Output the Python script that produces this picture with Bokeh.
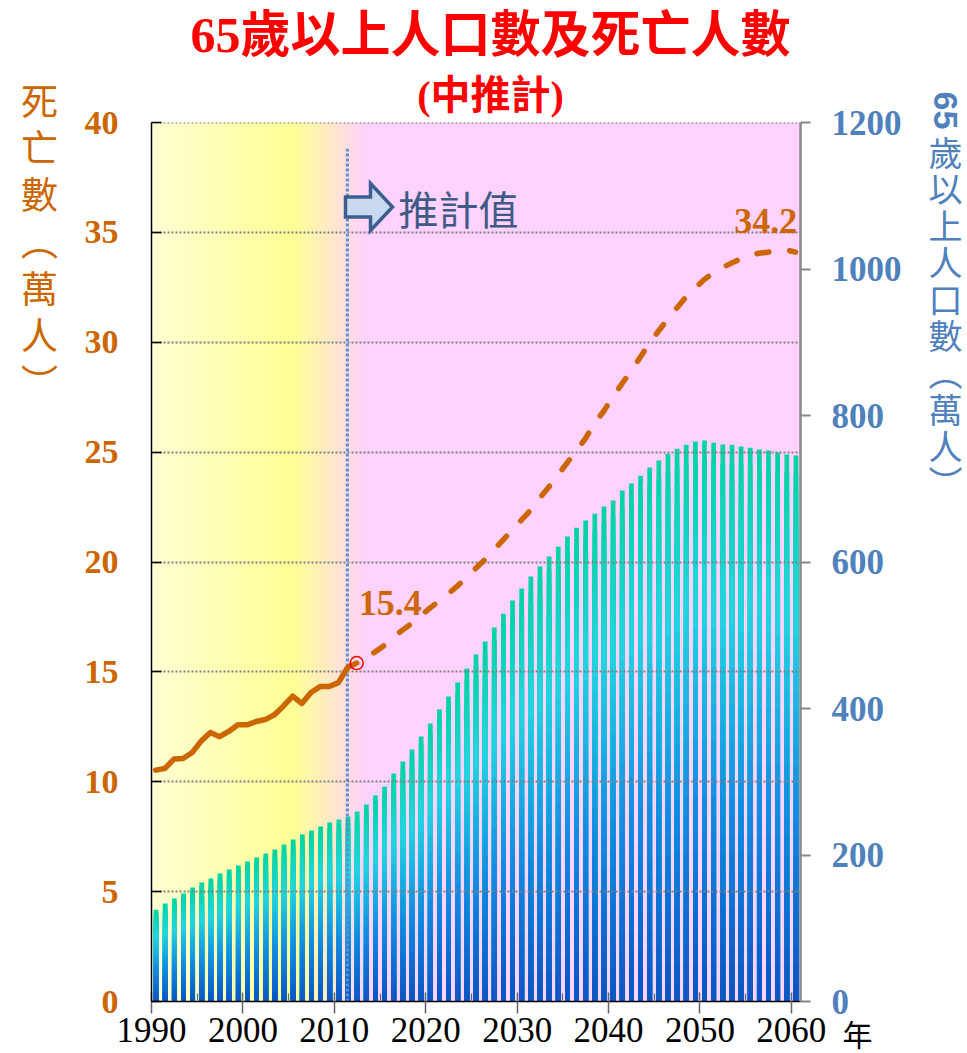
import math
import numpy as np
from bokeh.plotting import figure
from bokeh.models import Range1d, LinearAxis, FixedTicker, Label
from bokeh.embed import file_html
from bokeh.resources import INLINE

# ---------------- data ----------------
years = list(range(1990, 2061))
# 65+ population (10k persons)
pop65 = [125.2, 133.8, 140.6, 147.4, 155.6, 162.4, 167.9, 174.7, 180.2, 185.7,
         191.1, 196.6, 202.0, 207.5, 214.3, 221.2, 228.0, 233.4, 238.9, 244.4,
         248.5, 252.6, 259.4, 268.9, 281.2, 293.5, 311.3, 327.6, 344.0, 361.8,
         379.5, 398.6, 416.4, 435.5, 454.6, 473.7, 491.5, 510.6, 529.3, 547.4,
         563.8, 580.2, 593.9, 607.5, 620.7, 634.8, 646.7, 656.7, 665.8, 675.8,
         684.0, 697.6, 707.2, 717.7, 729.0, 738.6, 747.7, 754.5, 759.9, 764.5,
         765.9, 762.7, 760.4, 759.9, 757.7, 755.9, 753.6, 752.2, 749.5, 746.8, 745.4]
# deaths (10k persons), observed
years_obs = list(range(1990, 2013))
deaths_obs = [10.53, 10.6, 11.03, 11.06, 11.33, 11.86, 12.24, 12.05, 12.29, 12.59,
              12.59, 12.74, 12.83, 13.05, 13.45, 13.9, 13.56, 14.06, 14.33, 14.33,
              14.51, 15.2, 15.4]
# deaths (10k persons), projection (medium variant)
years_proj = list(range(2012, 2061))
deaths_proj = [15.4, 15.7, 15.9, 16.2, 16.55, 16.9, 17.2, 17.55, 17.9, 18.22,
               18.55, 18.9, 19.3, 19.7, 20.1, 20.55, 21.0, 21.45, 21.9, 22.35,
               22.9, 23.4, 23.95, 24.5, 25.05, 25.6, 26.3, 26.85, 27.5, 28.1,
               28.7, 29.3, 29.95, 30.5, 31.05, 31.55, 32.05, 32.45, 32.85, 33.15,
               33.4, 33.6, 33.8, 33.95, 34.05, 34.1, 34.15, 34.2, 34.1]

left_ticks = [0, 5, 10, 15, 20, 25, 30, 35, 40]
right_ticks = [0, 200, 400, 600, 800, 1000, 1200]
x_ticks = [1990, 2000, 2010, 2020, 2030, 2040, 2050, 2060]
x_minor = [1995, 2005, 2015, 2025, 2035, 2045, 2055]

title_text = "65歲以上人口數及死亡人數"
subtitle_text = "(中推計)"
left_label = "死\n亡\n數\n︵\n萬\n人\n︶"
right_label_num = "65"
right_label = "歲\n以\n上\n人\n口\n數\n︵\n萬\n人\n︶"
proj_text = "推計值"
year_unit = "年"

# ---------------- styling constants ----------------
SERIF = "Liberation Serif"
CJK = "Noto Sans CJK TC"
MIX = "Liberation Serif, Noto Sans CJK TC"
ORANGE = "#cc6600"
BLUE_TXT = "#4f81bd"

FL, FT = 151, 122            # frame left / top on the canvas
FW, FH = 649, 879
X0, X1 = 1990, 2061
Y1 = 40
PX_X = FW / (X1 - X0)
PX_Y = FH / Y1
BAR_OFF = 0.5
LINE_OFF = 0.45
PROJ_MARK_X = 2011.43
PROJ_MARK_TOP = 38.8


def at(px, py):
    """canvas pixel -> data coordinates (for placing annotations)"""
    return X0 + (px - FL) / PX_X, (FT + FH - py) / PX_Y


p = figure(frame_width=FW, frame_height=FH,
           x_range=Range1d(X0, X1), y_range=Range1d(0, Y1),
           output_backend="svg", toolbar_location=None,
           min_border_left=FL, min_border_right=967 - FL - FW,
           min_border_top=FT, min_border_bottom=1053 - FT - FH)
p.extra_y_ranges = {"pop": Range1d(0, 1200)}
p.outline_line_color = None
p.background_fill_color = "white"
p.border_fill_color = "white"
p.xgrid.visible = False
p.ygrid.visible = False

# ---------------- background gradient ----------------
N = 710
bx = np.linspace(X0, X1, N)
bg_stops_x = [1990, 2005.5, 2009.5, 2013.5, 2061]
bg_stops_c = [(255, 255, 212), (255, 255, 150), (255, 234, 200), (255, 210, 255), (255, 210, 255)]
img = np.zeros((1, N), dtype=np.uint32)
view = img.view(dtype=np.uint8).reshape((1, N, 4))
for ch in range(3):
    view[0, :, ch] = np.interp(bx, bg_stops_x, [c[ch] for c in bg_stops_c]).astype(np.uint8)
view[0, :, 3] = 255
p.image_rgba(image=[img], x=X0, y=0, dw=X1 - X0, dh=Y1)

# ---------------- gradient bars ----------------
grad_stops = [(0.0, (0, 212, 160)), (0.3, (34, 214, 226)), (0.65, (18, 140, 226)), (1.0, (8, 84, 196))]


def grad(f):
    fs = [s[0] for s in grad_stops]
    return "#%02x%02x%02x" % tuple(int(round(np.interp(f, fs, [s[1][c] for s in grad_stops]))) for c in range(3))


K = 30
bx_list, btop, bcol = [], [], []
for k in range(K):
    col = grad((k + 0.5) / K)
    for yr, v in zip(years, pop65):
        bx_list.append(yr + BAR_OFF)
        btop.append(v * (1 - k / K))
        bcol.append(col)
p.vbar(x=bx_list, top=btop, bottom=0, width=0.52, fill_color=bcol,
       line_color=None, y_range_name="pop")

# ---------------- grid lines ----------------
p.hspan(y=left_ticks[1:], line_color="#808080", line_width=1.8, line_dash="2 2")

# projection start marker
p.segment(x0=[PROJ_MARK_X], y0=[0], x1=[PROJ_MARK_X], y1=[PROJ_MARK_TOP],
          line_color="#5b8fd6", line_width=3, line_dash="3 2")

# ---------------- death lines ----------------
p.line(x=[y + LINE_OFF for y in years_obs], y=deaths_obs, line_color=ORANGE,
       line_width=5.5, line_join="round", line_cap="round")
p.line(x=[y + LINE_OFF for y in years_proj], y=deaths_proj, line_color=ORANGE,
       line_width=5.5, line_dash="12 21", line_dash_offset=13, line_cap="round")
p.scatter(x=[years_proj[0] + LINE_OFF], y=[deaths_proj[0]], marker="circle", size=13,
          fill_color=None, line_color="red", line_width=1.5)

# value labels
imax = int(np.argmax(deaths_proj))
p.add_layout(Label(x=years_proj[0] + LINE_OFF, y=deaths_proj[0], x_offset=2, y_offset=60,
                   text=f"{deaths_proj[0]:.1f}", text_align="left", text_baseline="middle",
                   text_font=SERIF, text_font_style="bold", text_font_size="36px",
                   text_color=ORANGE))
p.add_layout(Label(x=years_proj[imax] + LINE_OFF, y=deaths_proj[imax], x_offset=11, y_offset=29,
                   text=f"{deaths_proj[imax]:.1f}", text_align="right", text_baseline="middle",
                   text_font=SERIF, text_font_style="bold", text_font_size="36px",
                   text_color=ORANGE))

# ---------------- arrow + 推計值 ----------------
ARROW_ANCHOR = at(345, 206.5)
arrow_px = [(0, -10), (25, -10), (25, -23.5), (47, 0), (25, 23.5), (25, 10), (0, 10)]
p.patch(x=[ARROW_ANCHOR[0] + dx / PX_X for dx, dy in arrow_px],
        y=[ARROW_ANCHOR[1] + dy / PX_Y for dx, dy in arrow_px],
        fill_color="#c9d9f0", line_color="#3d5f8f", line_width=3.5, line_join="miter")
tx, ty = at(398, 207)
p.add_layout(Label(x=tx, y=ty, text=proj_text,
                   text_align="left", text_baseline="middle", text_font=CJK,
                   text_font_size="40px", text_color="#3e5a86"))

# ---------------- axes ----------------
ly = p.yaxis[0]
ly.ticker = FixedTicker(ticks=left_ticks)
ly.axis_line_color = "black"
ly.axis_line_width = 1.5
ly.major_tick_in = 10
ly.major_tick_out = 0
ly.major_tick_line_color = "black"
ly.major_tick_line_width = 1.5
ly.minor_tick_line_color = None
ly.major_label_standoff = 33
ly.major_label_text_font = SERIF
ly.major_label_text_font_style = "bold"
ly.major_label_text_font_size = "34px"
ly.major_label_text_color = ORANGE

ry = LinearAxis(y_range_name="pop", ticker=FixedTicker(ticks=right_ticks))
ry.axis_line_color = "#888888"
ry.axis_line_width = 2.5
ry.major_tick_in = 0
ry.major_tick_out = 10
ry.major_tick_line_color = "#888888"
ry.major_tick_line_width = 2
ry.minor_tick_line_color = None
ry.major_label_standoff = 21
ry.major_label_text_font = SERIF
ry.major_label_text_font_style = "bold"
ry.major_label_text_font_size = "35px"
ry.major_label_text_color = BLUE_TXT
p.add_layout(ry, "right")

bxa = p.xaxis[0]
bxa.ticker = FixedTicker(ticks=x_ticks, minor_ticks=x_minor)
bxa.axis_line_color = "black"
bxa.axis_line_width = 1.5
bxa.major_tick_in = 9
bxa.major_tick_out = 12
bxa.major_tick_line_color = "#666666"
bxa.major_tick_line_width = 1.5
bxa.minor_tick_in = 8
bxa.minor_tick_out = 0
bxa.minor_tick_line_color = "#666666"
bxa.minor_tick_line_width = 1.2
bxa.major_label_standoff = 4
bxa.major_label_text_font = SERIF
bxa.major_label_text_font_size = "35px"
bxa.major_label_text_color = "black"

# ---------------- titles & axis labels (side panels: not clipped) ----------------
x, y = at(490, 34)
p.add_layout(Label(x=x, y=y, text=title_text,
                   text_align="center", text_baseline="middle", text_font=MIX,
                   text_font_style="bold", text_font_size="50px", text_color="#ff0000"), "above")
x, y = at(490, 95)
p.add_layout(Label(x=x, y=y, text=subtitle_text,
                   text_align="center", text_baseline="middle", text_font=MIX,
                   text_font_style="bold", text_font_size="40px", text_color="#ff0000"), "above")
x, y = at(39, 72)
p.add_layout(Label(x=x, y=y, text=left_label,
                   text_align="center", text_baseline="top", text_font=CJK,
                   text_font_size="37px", text_line_height=0.87, text_color=ORANGE), "left")
x, y = at(945, 110)
p.add_layout(Label(x=x, y=y, text=right_label_num,
                   angle=-math.pi / 2, text_align="center", text_baseline="middle",
                   text_font="Liberation Sans", text_font_style="bold",
                   text_font_size="34px", text_color=BLUE_TXT), "left")
x, y = at(945, 126)
p.add_layout(Label(x=x, y=y, text=right_label,
                   text_align="center", text_baseline="top", text_font=CJK,
                   text_font_size="34px", text_line_height=0.75, text_color=BLUE_TXT), "right")
x, y = at(857, 1032)
p.add_layout(Label(x=x, y=y, text=year_unit,
                   text_align="center", text_baseline="middle", text_font=CJK,
                   text_font_size="30px", text_color="black"), "right")

open("out.html", "w").write(file_html(p, INLINE))
